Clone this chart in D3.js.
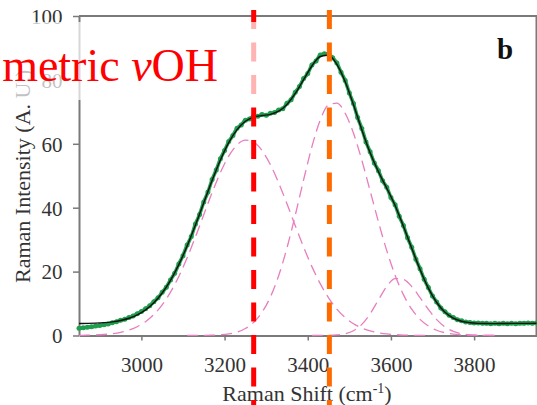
<!DOCTYPE html>
<html><head><meta charset="utf-8">
<script src="https://cdn.jsdelivr.net/npm/d3@7"></script>
<style>html,body{margin:0;padding:0;background:#fff;overflow:hidden}</style>
</head><body><svg id="c" width="537" height="405"></svg>
<script>
// measured Raman spectrum (green points), every 10 cm-1
const shift10 = [2850,2860,2870,2880,2890,2900,2910,2920,2930,2940,2950,2960,2970,2980,2990,
3000,3010,3020,3030,3040,3050,3060,3070,3080,3090,3100,3110,3120,3130,3140,3150,3160,3170,3180,3190,
3200,3210,3220,3230,3240,3250,3260,3270,3280,3290,3300,3310,3320,3330,3340,3350,3360,3370,3380,3390,
3400,3410,3420,3430,3440,3450,3460,3470,3480,3490,3500,3510,3520,3530,3540,3550,3560,3570,3580,3590,
3600,3610,3620,3630,3640,3650,3660,3670,3680,3690,3700,3710,3720,3730,3740,3750,3760,3770,3780,3790,
3800,3810,3820,3830,3840,3850,3860,3870,3880,3890,3900,3910,3920,3930,3940,3950];
const measured = [2.3,2.4,2.6,2.7,3.0,3.1,3.4,3.6,4.0,4.3,4.8,5.1,5.6,6.1,6.8,
7.5,8.4,9.3,10.6,11.8,13.5,15.1,17.4,19.5,22.4,25.0,28.3,31.0,34.9,37.9,41.8,44.9,48.8,51.8,55.3,
57.9,60.7,62.6,64.9,65.9,67.4,67.8,68.6,68.6,69.2,68.9,69.6,69.8,70.6,71.0,72.7,73.8,76.1,77.9,80.4,
82.0,84.7,85.9,87.8,88.2,88.1,86.9,85.3,82.4,79.8,75.9,72.6,68.2,64.8,60.6,57.5,54.0,51.6,48.4,46.4,
43.2,40.9,37.3,34.4,30.6,27.6,23.9,20.9,17.6,15.0,12.4,10.5,8.6,7.4,6.3,5.6,4.9,4.6,4.2,4.1,
3.9,3.9,3.8,3.8,3.7,3.8,3.7,3.8,3.7,3.8,3.7,3.8,3.8,3.9,3.8,3.9];

// fitted envelope and component bands, every 20 cm-1
const shift20 = [2850,2870,2890,2910,2930,2950,2970,2990,3010,3030,3050,3070,3090,3110,3130,3150,3170,3190,
3210,3230,3250,3270,3290,3310,3330,3350,3370,3390,3410,3430,3450,3470,3490,3510,3530,3550,3570,3590,
3610,3630,3650,3670,3690,3710,3730,3750,3770,3790,3810,3830,3850,3870,3890,3910,3930,3950];
const fitted = [3.74,3.79,3.87,4.02,4.27,4.70,5.39,6.45,8.03,10.26,13.30,17.27,22.19,28.03,34.59,41.56,48.50,54.93,
60.36,64.44,67.04,68.33,68.84,69.21,70.20,72.33,75.76,80.08,84.36,87.32,87.71,84.86,79.41,72.21,64.39,57.18,51.24,46.10,
40.66,34.18,27.32,20.65,14.82,10.33,7.27,5.44,4.46,4.01,3.81,3.74,3.72,3.75,3.78,3.80,3.80,3.82];
const band1 = [0.04,0.09,0.17,0.32,0.57,1.0,1.69,2.75,4.33,6.56,9.6,13.57,18.49,24.32,30.88,37.82,44.71,51.0,
56.15,59.65,61.16,60.53,57.9,53.5,47.78,41.23,34.38,27.69,21.56,16.22,11.79,8.28,5.62,3.69,2.34,1.43,0.85,0.48,
0.27,0.14,0.07,0.04,0.02,null,null,null,null,null,null,null,null,null,null,null,null,null];
const band2 = [null,null,null,null,null,null,null,null,null,null,null,null,null,0.01,0.01,0.04,0.09,0.23,
0.51,1.09,2.18,4.1,7.24,12.01,18.72,27.4,37.68,48.69,59.1,67.39,72.18,72.71,69.55,63.32,54.87,45.26,35.54,26.55,
18.88,12.79,8.24,5.05,2.95,1.64,0.87,0.44,0.21,0.1,0.04,0.02,0.01,null,null,null,null,null];
const band3 = [null,null,null,null,null,null,null,null,null,null,null,null,null,null,null,null,null,null,
null,null,null,null,null,null,null,null,null,null,0.0,0.01,0.04,0.17,0.54,1.5,3.48,6.79,11.15,15.37,
17.81,17.55,15.31,11.86,8.15,4.98,2.7,1.3,0.55,0.21,0.07,0.02,0.0,null,null,null,null,null];

const markerShifts = [3270, 3452];
const markerColors = ["#ff0000", "#ff6a00"];
const xTicks = [3000, 3200, 3400, 3600, 3800];
const yTicks = [0, 20, 40, 60, 80, 100];

const svg = d3.select("#c");
const L = 79, T = 16, R = 536.5, B = 335.5;
const x = d3.scaleLinear().domain([2850, 3950]).range([L, R]);
const y = d3.scaleLinear().domain([0, 100]).range([B, T]);
const serif = "'Liberation Serif','Times New Roman',serif";
const axisCol = "#7a7a7a";

// frame (top & right)
svg.append("path").attr("d", `M${L},${T}H${R}V${B}`).attr("fill", "none")
  .attr("stroke", axisCol).attr("stroke-width", 2);

// x axis
const gx = svg.append("g").attr("transform", `translate(0,${B})`)
  .call(d3.axisBottom(x).tickValues(xTicks).tickSize(5).tickSizeOuter(0).tickFormat(d3.format("d")));
gx.select(".domain").attr("stroke", axisCol).attr("stroke-width", 2);
gx.selectAll(".tick line").attr("stroke", axisCol).attr("stroke-width", 1.5);
gx.selectAll(".tick text").attr("y", 36.5).attr("dy", 0).attr("fill", "#333")
  .style("font-family", serif).style("font-size", "21px");

// y axis
const gy = svg.append("g").attr("transform", `translate(${L},0)`)
  .call(d3.axisLeft(y).tickValues(yTicks).tickSize(6).tickSizeOuter(0));
gy.select(".domain").attr("stroke", axisCol).attr("stroke-width", 2);
gy.selectAll(".tick line").attr("stroke", axisCol).attr("stroke-width", 1.5);
gy.selectAll(".tick text").attr("x", -16.5).attr("dy", "0.35em").attr("fill", "#333")
  .style("font-family", serif).style("font-size", "21px");

// axis titles
const xt = svg.append("text").attr("x", 307).attr("y", 401).attr("text-anchor", "middle")
  .attr("fill", "#333").style("font-family", serif).style("font-size", "22px");
xt.append("tspan").text("Raman Shift (cm");
xt.append("tspan").attr("dy", -8).style("font-size", "14px").text("-1");
xt.append("tspan").attr("dy", 8).text(")");

svg.append("text").attr("transform", "translate(30,283) rotate(-90)")
  .attr("fill", "#333").style("font-family", serif).style("font-size", "22px")
  .text("Raman Intensity (A. U.)");

// component bands
const line20 = d3.line().defined(d => d[1] != null)
  .x(d => x(d[0])).y(d => y(d[1])).curve(d3.curveMonotoneX);
[band1, band2, band3].forEach(b => {
  svg.append("path").datum(shift20.map((s, i) => [s, b[i]]))
    .attr("d", line20).attr("fill", "none").attr("stroke", "#e87dbf")
    .attr("stroke-width", 1.3).attr("stroke-dasharray", "11,6");
});

// measured points (drawn as a dense band of markers)
const pts = shift10.map((s, i) => [s, measured[i]]);
svg.append("path").datum(pts)
  .attr("d", d3.line().x(d => x(d[0])).y(d => y(d[1])).curve(d3.curveMonotoneX))
  .attr("fill", "none").attr("stroke", "#22a352").attr("stroke-width", 3.6);
svg.append("g").selectAll("circle").data(pts)
  .join("circle").attr("cx", d => x(d[0])).attr("cy", d => y(d[1])).attr("r", 2.5)
  .attr("fill", "#1f9e4e");

// fitted line
svg.append("path").datum(shift20.map((s, i) => [s, fitted[i]]))
  .attr("d", line20).attr("fill", "none").attr("stroke", "#111").attr("stroke-width", 1.4);

// panel letter
svg.append("text").attr("x", 497).attr("y", 58.5).attr("fill", "#111")
  .style("font-family", serif).style("font-size", "29px").style("font-weight", "bold").text("b");

// marker lines
svg.append("g").selectAll("line").data(markerShifts).join("line")
  .attr("x1", d => x(d)).attr("x2", d => x(d)).attr("y1", 10).attr("y2", 405)
  .attr("stroke", (d, i) => markerColors[i]).attr("stroke-width", 5)
  .attr("stroke-dasharray", "19,13.5");

// translucent label box + label
svg.append("rect").attr("x", 0).attr("y", 22).attr("width", 258).attr("height", 78)
  .attr("fill", "#fff").attr("opacity", 0.7);
const lab = svg.append("text").attr("x", 218).attr("y", 81).attr("text-anchor", "end")
  .attr("fill", "#ff0000").style("font-family", serif).style("font-size", "46px");
lab.append("tspan").text("metric ");
lab.append("tspan").style("font-style", "italic").text("v");
lab.append("tspan").text("OH");
</script></body></html>
